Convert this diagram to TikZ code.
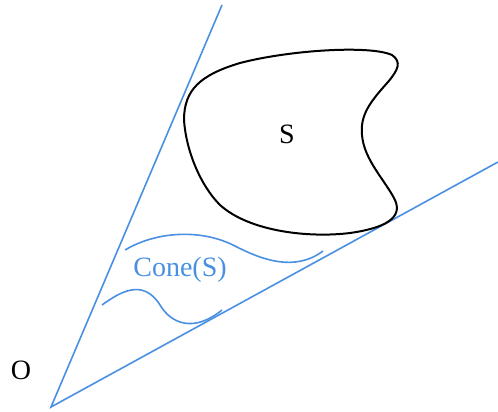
\documentclass[tikz,border=0pt]{standalone}
\usepackage{fontspec}
\setmainfont{Liberation Serif}
\definecolor{coneblue}{RGB}{74,144,226}
\begin{document}
\begin{tikzpicture}[x=1pt,y=-1pt,
  ray/.style={draw=coneblue,line width=1.6pt},
  wave/.style={draw=coneblue,line width=1.6pt},
  blob/.style={draw=black,line width=2pt},
  lbl/.style={font=\fontsize{28}{28}\selectfont,inner sep=0pt}]
\useasboundingbox (0,0) rectangle (498,412);
\coordinate (O) at (51,407);
\coordinate (A) at (222,5);
\coordinate (B) at (498,162);
\draw[ray] (A) -- (O) -- (B);
\draw[blob] (184,120) .. controls (184,90) and (200,75) .. (240,63)
  .. controls (290,50) and (370,45) .. (392,55)
  .. controls (402,62) and (398,70) .. (388,82)
  .. controls (370,102) and (360,115) .. (362,135)
  .. controls (364,160) and (385,180) .. (395,200)
  .. controls (403,218) and (385,228) .. (350,233)
  .. controls (310,238) and (250,232) .. (220,205)
  .. controls (200,185) and (186,150) .. (184,120) -- cycle;
\draw[wave] (125,250) .. controls (155,232) and (200,228) .. (235,246)
  .. controls (262,260) and (295,272) .. (323,251);
\draw[wave] (102,305) .. controls (120,292) and (143,278) .. (160,305)
  .. controls (172,325) and (195,332) .. (222,310);
\node[lbl,text=coneblue] (cone) at (180,270) {Cone(S)};
\node[lbl] (S) at (287,134) {S};
\node[lbl] (Olbl) at (21,370) {O};
\end{tikzpicture}
\end{document}
